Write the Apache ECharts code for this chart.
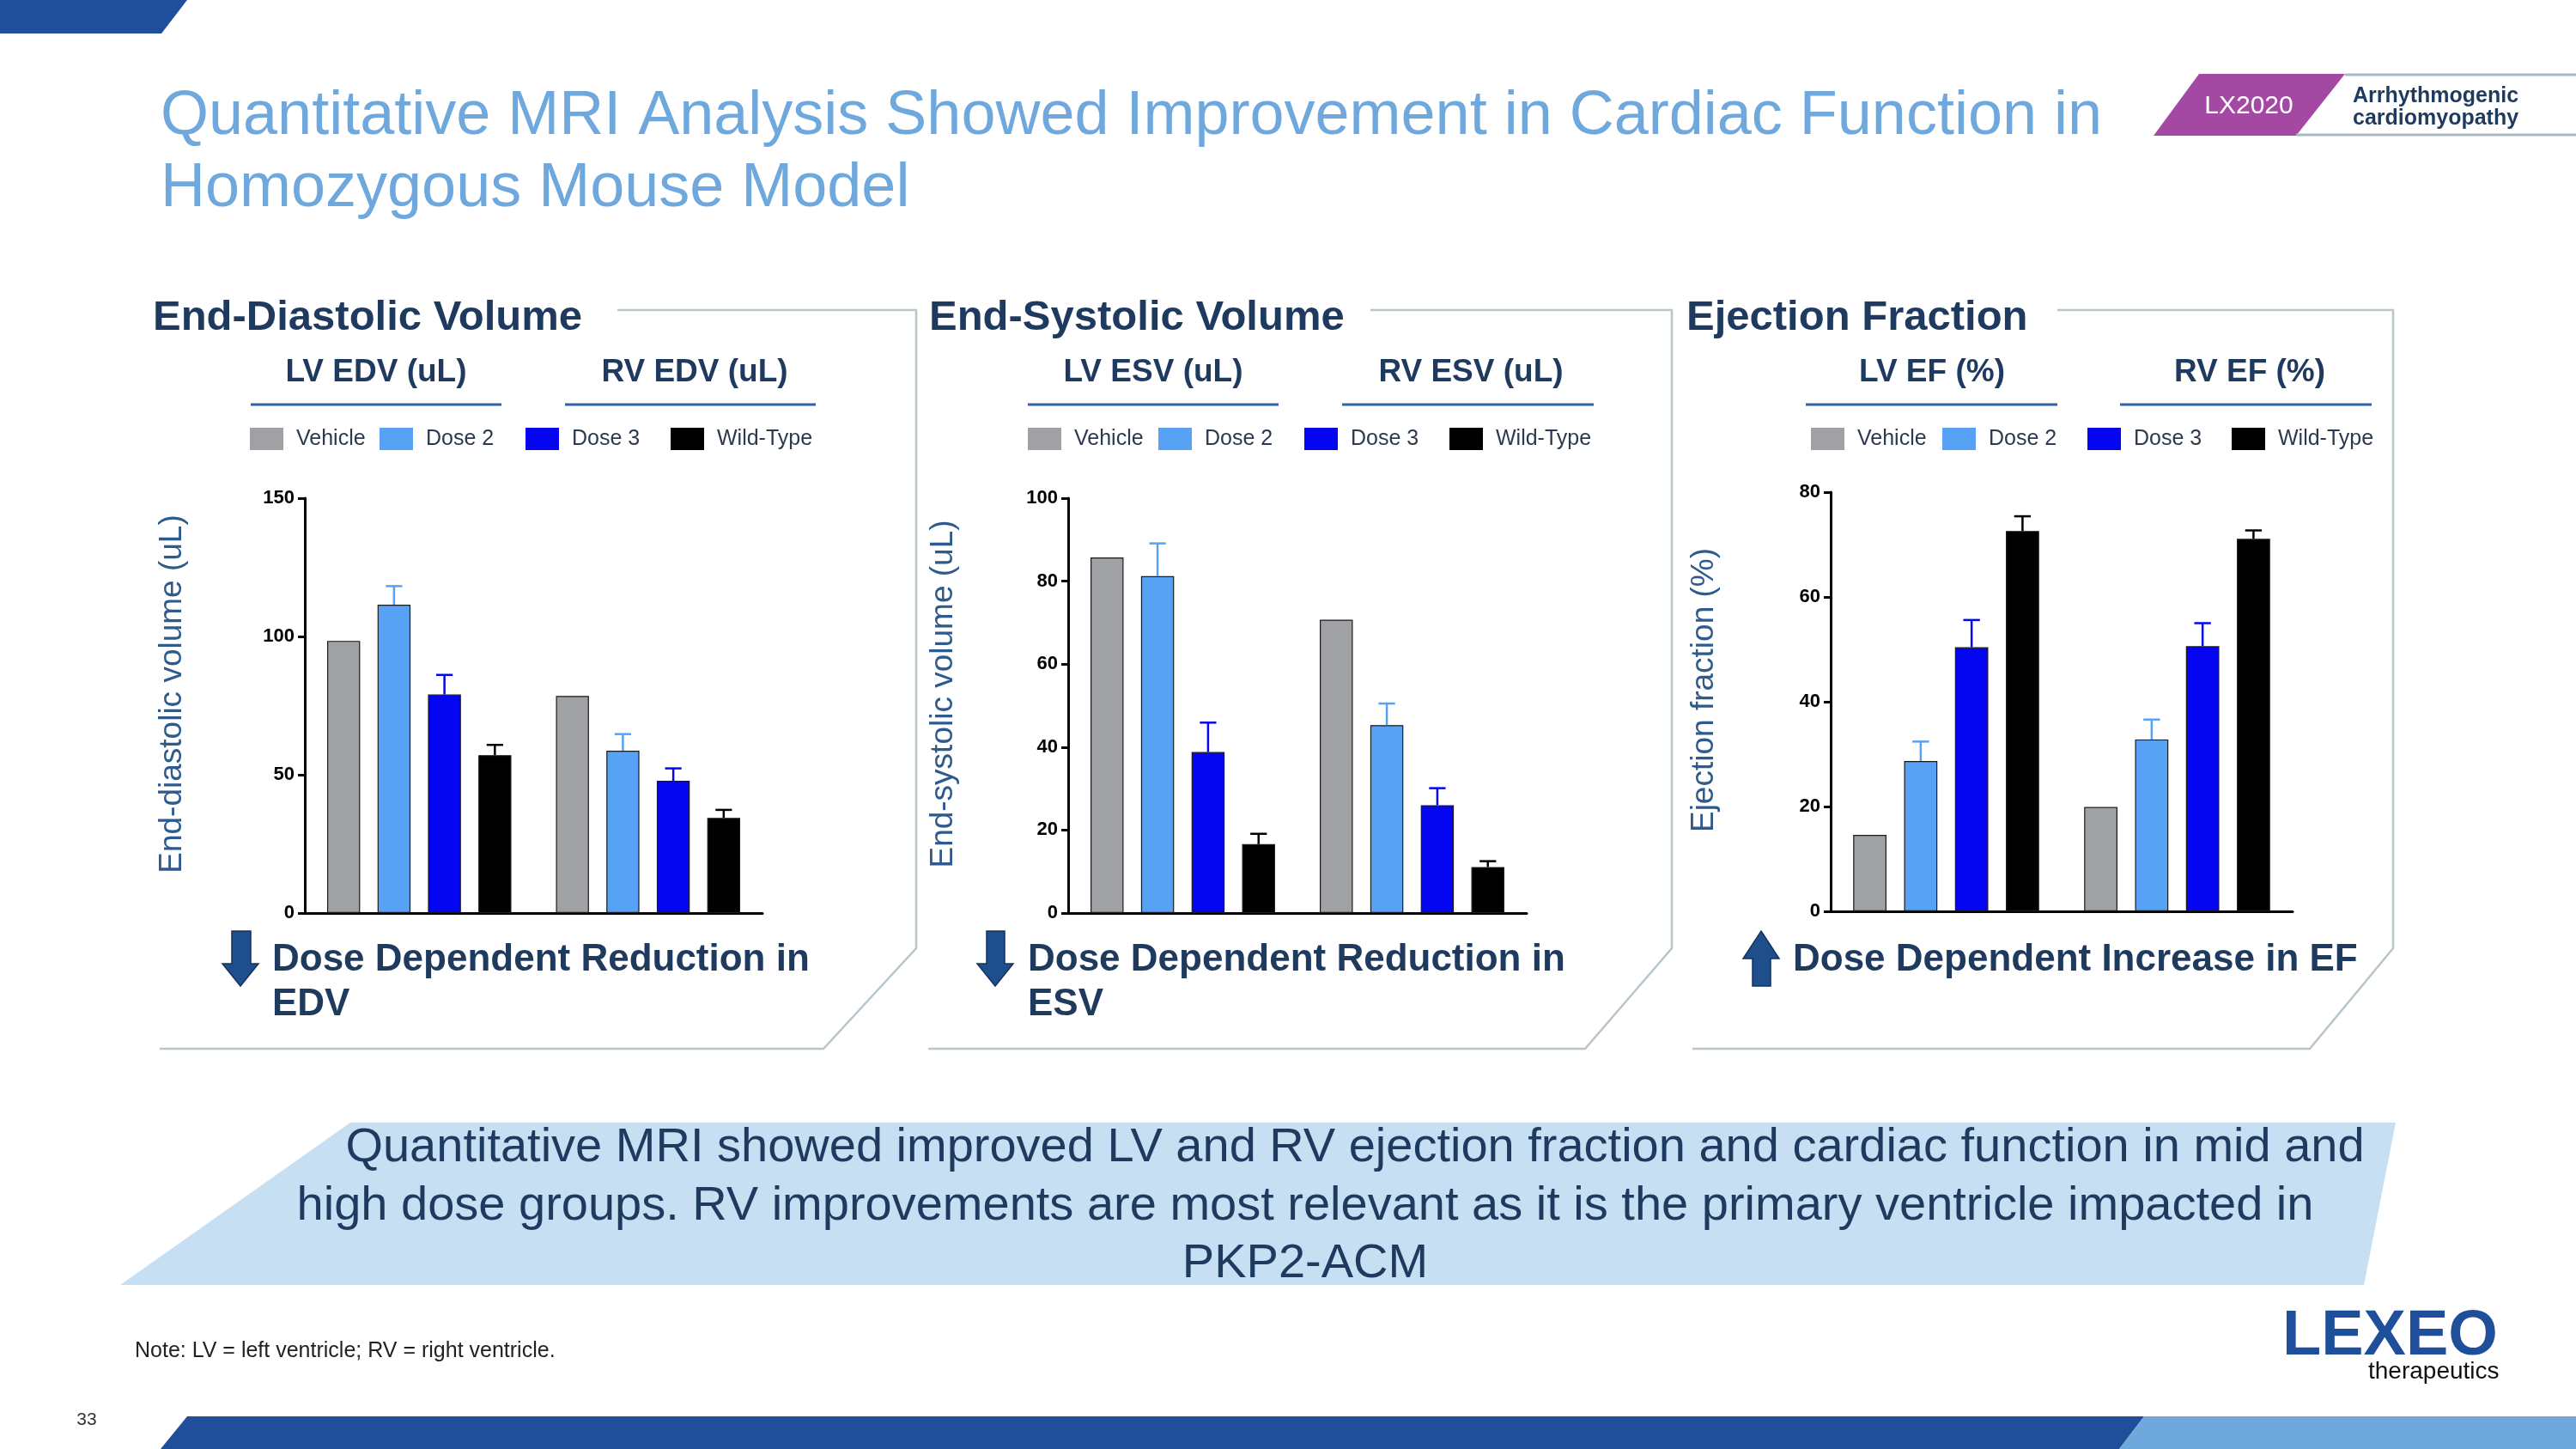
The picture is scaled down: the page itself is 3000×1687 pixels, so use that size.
<!DOCTYPE html>
<html><head><meta charset="utf-8">
<script src="https://cdn.jsdelivr.net/npm/echarts@6/dist/echarts.min.js"></script>
<style>html,body{margin:0;padding:0;background:#fff}#c{width:3000px;height:1687px}</style>
</head><body><div id="c"></div>
<script>
// ---------- DATA ----------
const categories = ['LV', 'RV'];
const groupNames = ['Vehicle', 'Dose 2', 'Dose 3', 'Wild-Type'];

// End-diastolic volume (uL)
const edvVehicle = [98.4, 78.5];
const edvDose2 = [111.5, 58.7];
const edvDose2Sem = [6.7, 6.0];
const edvDose3 = [79.0, 47.8];
const edvDose3Sem = [7.1, 4.5];
const edvWildType = [57.1, 34.4];
const edvWildTypeSem = [3.7, 2.9];
const edvAxisMax = 150, edvAxisStep = 50;

// End-systolic volume (uL)
const esvVehicle = [85.7, 70.7];
const esvDose2 = [81.2, 45.3];
const esvDose2Sem = [7.9, 5.2];
const esvDose3 = [38.8, 26.0];
const esvDose3Sem = [7.1, 4.1];
const esvWildType = [16.6, 11.1];
const esvWildTypeSem = [2.5, 1.4];
const esvAxisMax = 100, esvAxisStep = 20;

// Ejection fraction (%)
const efVehicle = [14.6, 19.9];
const efDose2 = [28.7, 32.8];
const efDose2Sem = [3.7, 3.8];
const efDose3 = [50.4, 50.6];
const efDose3Sem = [5.2, 4.4];
const efWildType = [72.6, 71.1];
const efWildTypeSem = [2.8, 1.6];
const efAxisMax = 80, efAxisStep = 20;

// ---------- STYLE ----------
const FONT = 'Liberation Sans, Arial, Helvetica, sans-serif';
const NAVY = '#1F3A5F';
const COLORS = ['#A0A1A5', '#58A2F6', '#0505F0', '#000000'];
const CAT_GAP = 0.195, BAR_GAP = 0.53;

const panels = [
  { grid: {left: 355, top: 580, width: 533, height: 483}, max: edvAxisMax, step: edvAxisStep,
    yName: 'End-diastolic volume (uL)', nameGap: 136,
    means: [edvVehicle, edvDose2, edvDose3, edvWildType], sems: [null, edvDose2Sem, edvDose3Sem, edvWildTypeSem],
    legendLeft: [291, 442, 612, 781] },
  { grid: {left: 1244, top: 580, width: 534, height: 483}, max: esvAxisMax, step: esvAxisStep,
    yName: 'End-systolic volume (uL)', nameGap: 127,
    means: [esvVehicle, esvDose2, esvDose3, esvWildType], sems: [null, esvDose2Sem, esvDose3Sem, esvWildTypeSem],
    legendLeft: [1197, 1349, 1519, 1688] },
  { grid: {left: 2132, top: 573, width: 538, height: 488}, max: efAxisMax, step: efAxisStep,
    yName: 'Ejection fraction (%)', nameGap: 129,
    means: [efVehicle, efDose2, efDose3, efWildType], sems: [null, efDose2Sem, efDose3Sem, efWildTypeSem],
    legendLeft: [2109, 2262, 2431, 2599] }
];

const grids = [], xAxes = [], yAxes = [], series = [], legends = [];
panels.forEach((p, g) => {
  grids.push(Object.assign({containLabel: false}, p.grid));
  xAxes.push({type: 'category', gridIndex: g, data: categories,
    axisLine: {lineStyle: {color: '#000', width: 3}}, axisTick: {show: false}, axisLabel: {show: false}});
  yAxes.push({type: 'value', gridIndex: g, min: 0, max: p.max, interval: p.step,
    name: p.yName, nameLocation: 'middle', nameRotate: 90, nameGap: p.nameGap,
    nameTextStyle: {fontSize: 37, color: '#2E5A8C', fontFamily: FONT, padding: [0, 0, 0, 27]},
    axisLine: {show: true, lineStyle: {color: '#000', width: 3}},
    axisTick: {show: true, length: 8, lineStyle: {color: '#000', width: 3}},
    axisLabel: {fontSize: 22, fontWeight: 'bold', color: '#000', fontFamily: FONT, margin: 12},
    splitLine: {show: false}});
  groupNames.forEach((name, s) => {
    series.push({type: 'bar', name: name, xAxisIndex: g, yAxisIndex: g, data: p.means[s],
      barGap: (BAR_GAP * 100) + '%', barCategoryGap: (CAT_GAP * 100) + '%',
      itemStyle: {color: COLORS[s], borderColor: '#1a1a1a', borderWidth: 1.2},
      emphasis: {disabled: true}, z: 2});
  });
  groupNames.forEach((name, s) => {
    if (!p.sems[s]) return;
    const color = COLORS[s];
    series.push({type: 'custom', name: name + ' SEM', xAxisIndex: g, yAxisIndex: g, z: 3,
      data: p.means[s].map((m, i) => [i, m, m + p.sems[s][i]]),
      renderItem: function (params, api) {
        const cw = api.size([1, 0])[0];
        const bw = cw * (1 - CAT_GAP) / (4 + 3 * BAR_GAP);
        const off = -(4 * bw + 3 * bw * BAR_GAP) / 2 + s * bw * (1 + BAR_GAP) + bw / 2;
        const base = api.coord([api.value(0), api.value(1)]);
        const top = api.coord([api.value(0), api.value(2)]);
        const x = base[0] + off, cap = bw * 0.5;
        return {type: 'group', children: [
          {type: 'line', shape: {x1: x, y1: base[1], x2: x, y2: top[1]}, style: {stroke: color, lineWidth: 2.5}},
          {type: 'line', shape: {x1: x - cap / 2, y1: top[1], x2: x + cap / 2, y2: top[1]}, style: {stroke: color, lineWidth: 2.5}}
        ]};
      }});
  });
  groupNames.forEach((name, s) => {
    legends.push({data: [name], left: p.legendLeft[s], top: 498, padding: 0, itemGap: 0,
      itemWidth: 39, itemHeight: 26, icon: 'rect', selectedMode: false,
      itemStyle: {borderWidth: 0},
      textStyle: {fontSize: 25, color: '#2B3A4E', fontFamily: FONT, padding: [0, 0, 0, 10]}});
  });
});

// ---------- DECORATION / TEXT ----------
function txt(x, y, text, size, color, weight, align) {
  return {type: 'text', x: x, y: y, silent: true, z: 10,
    style: {text: text, fill: color, font: (weight || 'normal') + ' ' + size + 'px ' + FONT,
      align: align || 'left', verticalAlign: 'middle', textAlign: align || 'left', textVerticalAlign: 'middle'}};
}
function poly(points, fill, z) { return {type: 'polygon', silent: true, z: z || 1, shape: {points: points}, style: {fill: fill}}; }
function pline(points, stroke, w) { return {type: 'polyline', silent: true, z: 1, shape: {points: points}, style: {stroke: stroke, lineWidth: w, fill: null}}; }
function line(x1, y1, x2, y2, stroke, w) { return {type: 'line', silent: true, z: 1, shape: {x1: x1, y1: y1, x2: x2, y2: y2}, style: {stroke: stroke, lineWidth: w}}; }
function downArrow(x0, x1, s0, s1, yTop, yHead, yTip) {
  return {type: 'polygon', silent: true, z: 5, shape: {points: [[s0, yTop], [s1, yTop], [s1, yHead], [x1, yHead], [(x0 + x1) / 2, yTip], [x0, yHead], [s0, yHead]]},
    style: {fill: '#1F4E8C', stroke: '#14325A', lineWidth: 1.5}};
}
function upArrow(x0, x1, s0, s1, yTip, yHead, yBot) {
  return {type: 'polygon', silent: true, z: 5, shape: {points: [[(x0 + x1) / 2, yTip], [x1, yHead], [s1, yHead], [s1, yBot], [s0, yBot], [s0, yHead], [x0, yHead]]},
    style: {fill: '#1F4E8C', stroke: '#14325A', lineWidth: 1.5}};
}
const BORDER = '#B8C6CC', ULINE = '#2F62AC';
const graphics = [
  // top-left tab
  poly([[0, 0], [218, 0], [188, 39], [0, 39]], '#1F4E9A'),
  // title
  txt(187, 136, 'Quantitative MRI Analysis Showed Improvement in Cardiac Function in', 72, '#6FA8DC'),
  txt(187, 220, 'Homozygous Mouse Model', 72, '#6FA8DC'),
  // badge
  poly([[2561, 86], [2731, 86], [2674, 158], [2508, 158]], '#A349A4'),
  line(2731, 87, 3000, 87, '#A9B8C0', 3),
  line(2674, 157, 3000, 157, '#A9B8C0', 3),
  txt(2619, 124, 'LX2020', 30, '#ffffff', 'normal', 'center'),
  txt(2740, 112, 'Arrhythmogenic', 25, NAVY, 'bold'),
  txt(2740, 138, 'cardiomyopathy', 25, NAVY, 'bold'),
  // panel borders
  pline([[719, 361], [1067, 361], [1067, 1104], [959, 1221], [186, 1221]], BORDER, 2.5),
  pline([[1596, 361], [1947, 361], [1947, 1104], [1846, 1221], [1081, 1221]], BORDER, 2.5),
  pline([[2396, 361], [2787, 361], [2787, 1104], [2690, 1221], [1971, 1221]], BORDER, 2.5),
  // panel titles
  txt(178, 370, 'End-Diastolic Volume', 49, NAVY, 'bold'),
  txt(1082, 370, 'End-Systolic Volume', 49, NAVY, 'bold'),
  txt(1964, 370, 'Ejection Fraction', 49, NAVY, 'bold'),
  // sub titles + underlines
  txt(438, 434, 'LV EDV (uL)', 37, NAVY, 'bold', 'center'),
  txt(809, 434, 'RV EDV (uL)', 37, NAVY, 'bold', 'center'),
  line(292, 471, 584, 471, ULINE, 3), line(658, 471, 950, 471, ULINE, 3),
  txt(1343, 434, 'LV ESV (uL)', 37, NAVY, 'bold', 'center'),
  txt(1713, 434, 'RV ESV (uL)', 37, NAVY, 'bold', 'center'),
  line(1197, 471, 1489, 471, ULINE, 3), line(1563, 471, 1856, 471, ULINE, 3),
  txt(2250, 434, 'LV EF (%)', 37, NAVY, 'bold', 'center'),
  txt(2620, 434, 'RV EF (%)', 37, NAVY, 'bold', 'center'),
  line(2103, 471, 2396, 471, ULINE, 3), line(2469, 471, 2762, 471, ULINE, 3),
  // conclusions
  downArrow(259, 301, 270, 292, 1084, 1122, 1148),
  txt(317, 1118, 'Dose Dependent Reduction in', 44, NAVY, 'bold'),
  txt(317, 1170, 'EDV', 44, NAVY, 'bold'),
  downArrow(1138, 1180, 1149, 1170, 1084, 1122, 1148),
  txt(1197, 1118, 'Dose Dependent Reduction in', 44, NAVY, 'bold'),
  txt(1197, 1170, 'ESV', 44, NAVY, 'bold'),
  upArrow(2030, 2072, 2041, 2062, 1084, 1116, 1148),
  txt(2088, 1118, 'Dose Dependent Increase in EF', 44, NAVY, 'bold'),
  // banner
  poly([[408, 1307], [2790, 1307], [2753, 1496], [140, 1496]], '#C6DFF3'),
  txt(1578, 1337, 'Quantitative MRI showed improved LV and RV ejection fraction and cardiac function in mid and', 56, NAVY, 'normal', 'center'),
  txt(1520, 1405, 'high dose groups. RV improvements are most relevant as it is the primary ventricle impacted in', 56, NAVY, 'normal', 'center'),
  txt(1520, 1472, 'PKP2-ACM', 56, NAVY, 'normal', 'center'),
  // note, page number
  txt(157, 1573, 'Note: LV = left ventricle; RV = right ventricle.', 25, '#222222'),
  txt(101, 1653, '33', 21, '#333333', 'normal', 'center'),
  // logo
  txt(2658, 1557, 'LEXEO', 74, '#1F4E9A', 'bold'),
  txt(2758, 1597, 'therapeutics', 28, '#111111'),
  // bottom bars
  poly([[218, 1649], [2497, 1649], [2468, 1687], [187, 1687]], '#1F4E9A'),
  poly([[2497, 1649], [3000, 1649], [3000, 1687], [2468, 1687]], '#6FA8DC')
];

const chart = echarts.init(document.getElementById('c'), null, {renderer: 'canvas', width: 3000, height: 1687});
chart.setOption({
  animation: false,
  backgroundColor: '#ffffff',
  textStyle: {fontFamily: FONT},
  grid: grids, xAxis: xAxes, yAxis: yAxes, series: series, legend: legends,
  graphic: {elements: graphics}
});
</script></body></html>
